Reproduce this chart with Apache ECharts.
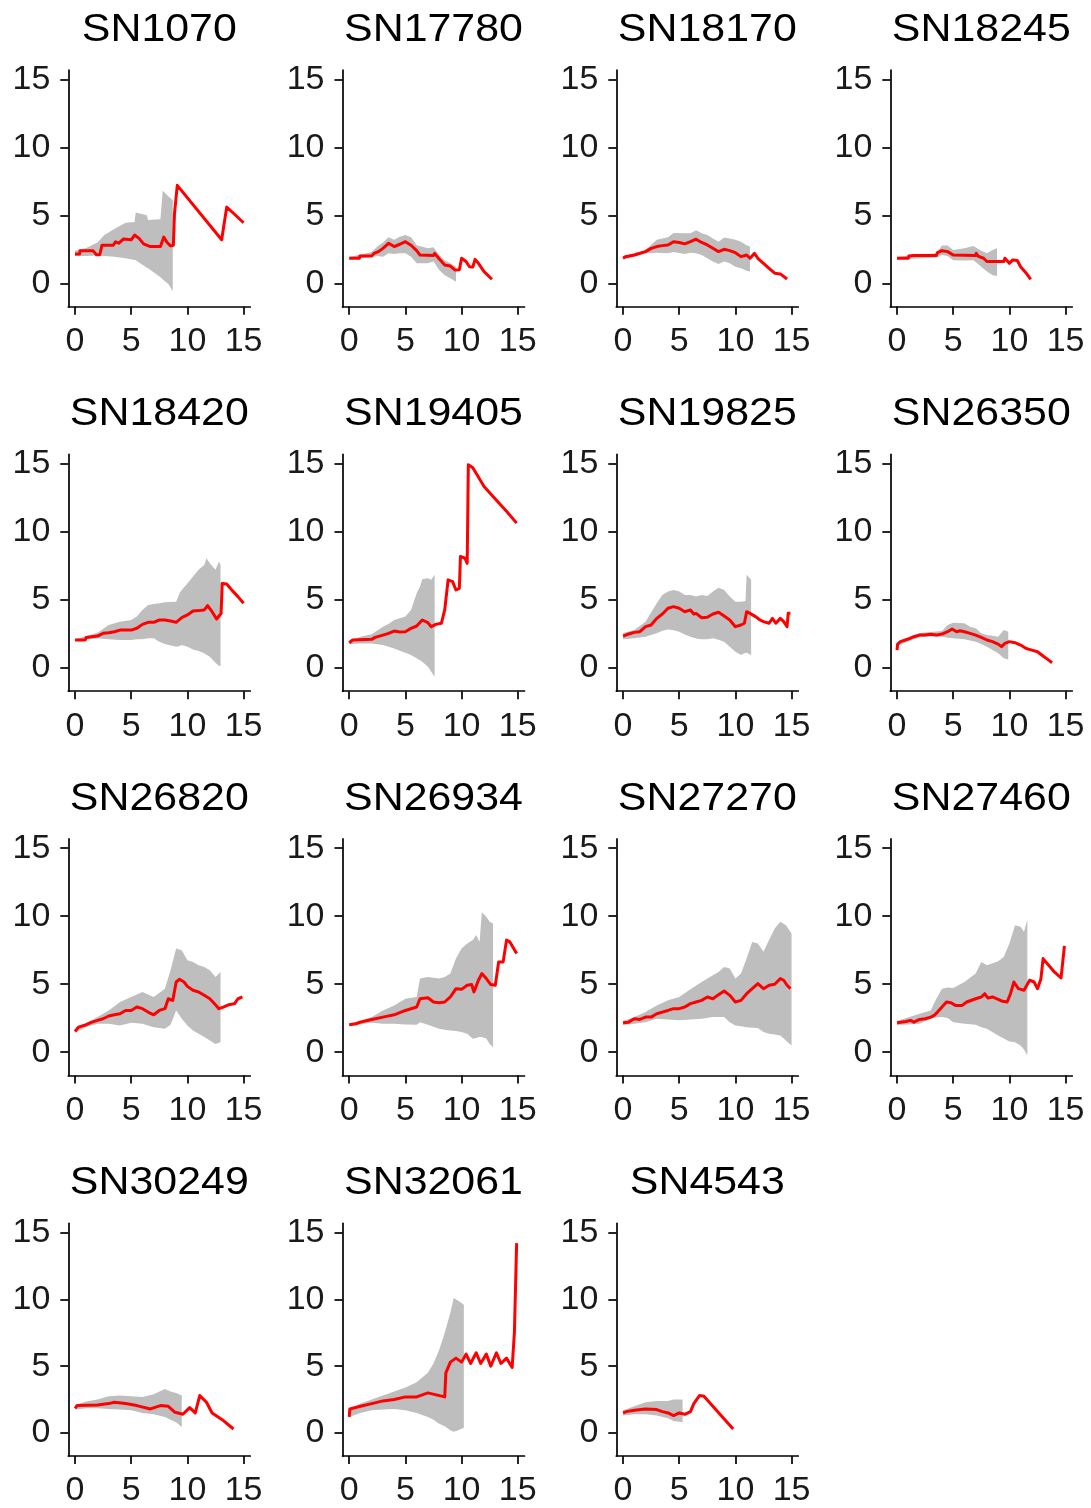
<!DOCTYPE html>
<html>
<head>
<meta charset="utf-8">
<script src="https://cdn.jsdelivr.net/npm/echarts@6/dist/echarts.min.js"></script>
<style>
  html, body { margin: 0; padding: 0; background: #ffffff; }
  #chart { width: 1091px; height: 1508px; }
</style>
</head>
<body>
<div id="chart"></div>
<script>
// Panel names, in reading order
const panelNames = ['SN1070', 'SN17780', 'SN18170', 'SN18245',
                    'SN18420', 'SN19405', 'SN19825', 'SN26350',
                    'SN26820', 'SN26934', 'SN27270', 'SN27460',
                    'SN30249', 'SN32061', 'SN4543'];

const xTicks = [0, 5, 10, 15];
const yTicks = [0, 5, 10, 15];

// Estimate curves: [time, value]
const sn1070Line = [[0,2.16],[0.4,2.16],[0.45,2.4],[1.6,2.4],[1.9,2.1],[2.2,2.1],[2.4,2.8],[3.4,2.8],[3.6,3.05],[3.9,2.95],[4.3,3.25],[5.0,3.2],[5.3,3.55],[5.7,3.3],[6.1,2.9],[6.7,2.7],[7.6,2.7],[7.9,3.4],[8.2,3.0],[8.5,2.75],[8.75,2.8],[8.85,5.1],[9.0,5.2],[9.1,7.2],[9.25,7.2],[13.05,3.2],[13.5,5.6],[14.1,5.15],[15,4.45]];
const sn17780Line = [[0,1.84],[0.9,1.84],[0.95,2.0],[2.0,2.0],[2.2,2.2],[2.6,2.33],[3.0,2.57],[3.5,2.94],[4.0,2.7],[4.5,2.87],[5.0,3.06],[5.5,2.8],[6.0,2.4],[6.3,2.08],[7.5,2.05],[7.6,2.2],[8.0,1.8],[8.5,1.35],[9.0,1.27],[9.4,0.98],[9.8,1.0],[10.0,1.84],[10.4,1.6],[10.7,1.22],[11.0,1.2],[11.2,1.76],[11.5,1.47],[12.0,0.86],[12.7,0.3]];
const sn18170Line = [[0,1.84],[0.2,1.95],[1.0,2.08],[2.0,2.33],[2.5,2.57],[3.0,2.7],[3.5,2.77],[4.0,2.82],[4.5,3.06],[5.0,3.0],[5.5,2.9],[6.0,3.06],[6.5,3.24],[7.0,3.0],[7.5,2.82],[8.0,2.57],[8.5,2.33],[9.0,2.5],[9.5,2.4],[10.0,2.25],[10.5,1.96],[11.0,2.08],[11.3,1.84],[11.7,2.2],[12.0,1.84],[12.5,1.47],[13.0,1.1],[13.5,0.74],[14.0,0.69],[14.6,0.32]];
const sn18245Line = [[0,1.84],[1.0,1.84],[1.05,2.0],[1.5,2.05],[3.5,2.05],[3.6,2.25],[4.0,2.4],[4.5,2.33],[5.0,2.08],[7.0,2.05],[7.05,2.2],[7.2,2.0],[7.7,1.84],[8.0,1.6],[9.5,1.6],[9.6,1.84],[10.0,1.47],[10.3,1.72],[10.7,1.67],[11.0,1.22],[11.5,0.74],[11.9,0.29]];
const sn18420Line = [[0,2.04],[0.9,2.04],[1.0,2.23],[2.0,2.33],[2.5,2.53],[3.0,2.58],[3.5,2.65],[4.0,2.77],[5.0,2.77],[5.5,2.9],[6.0,3.19],[6.5,3.34],[7.0,3.34],[7.5,3.51],[8.0,3.51],[8.5,3.44],[9.0,3.34],[9.5,3.68],[10.0,3.88],[10.5,4.17],[11.0,4.2],[11.5,4.25],[11.8,4.57],[12.2,4.12],[12.6,3.58],[13.0,4.0],[13.1,6.2],[13.5,6.16],[14.0,5.67],[14.5,5.23],[15.0,4.74]];
const sn19405Line = [[0,1.84],[0.3,2.04],[2.0,2.09],[2.3,2.23],[3.0,2.4],[3.5,2.53],[4.0,2.7],[4.5,2.63],[5.0,2.65],[5.5,2.9],[6.0,3.07],[6.5,3.51],[7.0,3.31],[7.3,3.02],[7.7,3.19],[8.2,3.27],[8.5,4.25],[8.8,6.46],[9.2,6.33],[9.5,5.72],[9.8,5.84],[9.9,8.18],[10.3,8.05],[10.5,7.68],[10.6,14.93],[11.0,14.7],[12.0,13.33],[13.0,12.4],[14.0,11.5],[14.9,10.63]];
const sn19825Line = [[0,2.33],[0.5,2.48],[1.0,2.6],[1.5,2.65],[2.0,3.02],[2.5,3.14],[3.0,3.63],[3.5,3.95],[4.0,4.37],[4.5,4.49],[5.0,4.37],[5.5,4.12],[6.0,4.25],[6.3,3.95],[6.5,4.0],[7.0,3.68],[7.5,3.71],[8.0,3.95],[8.5,4.08],[9.0,3.8],[9.5,3.51],[10.0,3.02],[10.5,3.14],[10.8,3.27],[11.0,4.12],[11.3,4.0],[11.8,3.76],[12.2,3.51],[12.5,3.39],[13.0,3.27],[13.3,3.63],[13.6,3.27],[14.0,3.63],[14.3,3.39],[14.6,3.02],[14.7,4.0],[14.9,4.0]];
const sn26350Line = [[0,1.3],[0.05,1.74],[0.3,1.92],[1.0,2.11],[1.5,2.28],[2.0,2.4],[2.5,2.4],[3.0,2.46],[3.5,2.4],[4.0,2.48],[4.5,2.65],[4.9,2.85],[5.3,2.65],[5.6,2.72],[6.0,2.65],[6.5,2.53],[7.0,2.4],[7.5,2.23],[8.0,2.04],[8.5,1.92],[9.0,1.74],[9.3,1.55],[9.6,1.79],[10.0,1.92],[10.5,1.84],[11.0,1.67],[11.5,1.42],[12.0,1.3],[12.5,1.18],[13.0,0.86],[13.5,0.56],[13.8,0.37]];
const sn26820Line = [[0,1.52],[0.3,1.84],[1.0,2.02],[1.5,2.21],[2.0,2.34],[2.5,2.46],[3.0,2.66],[3.5,2.75],[4.0,2.83],[4.5,3.07],[5.0,3.07],[5.5,3.32],[6.0,3.2],[6.5,2.95],[7.0,2.75],[7.5,3.07],[8.0,3.2],[8.3,3.93],[8.7,3.81],[9.0,5.16],[9.3,5.36],[9.7,5.16],[10.0,4.84],[10.5,4.55],[11.0,4.43],[11.5,4.18],[12.0,3.93],[12.5,3.49],[12.8,3.2],[13.2,3.32],[13.7,3.49],[14.2,3.57],[14.5,3.93],[14.9,4.06]];
const sn26934Line = [[0,2.02],[0.6,2.09],[1.0,2.21],[2.0,2.41],[3.0,2.58],[4.0,2.75],[5.0,3.07],[6.0,3.32],[6.3,3.93],[7.0,4.0],[7.5,3.69],[8.0,3.64],[8.5,3.69],[9.0,4.06],[9.5,4.67],[10.0,4.62],[10.5,4.92],[10.9,4.97],[11.1,4.43],[11.5,5.29],[11.8,5.78],[12.2,5.41],[12.6,4.97],[13.0,4.92],[13.3,6.64],[13.7,6.64],[14.0,8.24],[14.3,8.11],[14.9,7.25]];
const sn27270Line = [[0,2.16],[0.5,2.21],[1.0,2.46],[1.5,2.41],[2.0,2.58],[2.5,2.58],[3.0,2.83],[3.5,2.95],[4.0,3.07],[4.5,3.2],[5.0,3.2],[5.5,3.32],[6.0,3.57],[6.5,3.69],[7.0,3.81],[7.5,4.06],[8.0,3.93],[8.5,4.23],[9.0,4.5],[9.5,4.18],[10.0,3.69],[10.5,3.81],[11.0,4.3],[11.5,4.67],[12.0,5.04],[12.5,4.67],[13.0,4.92],[13.5,4.99],[14.0,5.41],[14.3,5.29],[14.6,4.92],[14.9,4.67]];
const sn27460Line = [[0,2.16],[0.8,2.26],[1.2,2.34],[1.5,2.21],[2.0,2.41],[2.5,2.46],[3.0,2.58],[3.3,2.7],[3.6,2.95],[4.0,3.32],[4.4,3.69],[4.8,3.64],[5.2,3.44],[5.8,3.44],[6.2,3.69],[7.0,3.93],[7.5,4.06],[7.8,4.3],[8.1,3.98],[8.5,4.06],[9.0,3.89],[9.4,3.74],[9.8,3.69],[10.1,4.3],[10.4,5.16],[10.8,4.67],[11.3,4.55],[11.8,5.29],[12.2,5.16],[12.5,4.67],[12.8,5.36],[13.0,6.88],[14.0,5.9],[14.6,5.46],[14.9,7.82]];
const sn30249Line = [[0,1.84],[0.2,2.06],[2,2.1],[3,2.2],[3.5,2.3],[4.5,2.2],[5.5,2.05],[6.7,1.8],[7.6,2.05],[8.3,2.0],[8.9,1.55],[9.6,1.4],[10.2,1.9],[10.7,1.5],[11.1,2.8],[11.7,2.3],[12.2,1.5],[13.1,1.0],[14.1,0.3]];
const sn32061Line = [[0,1.2],[0.05,1.8],[1,2.0],[2,2.2],[3,2.4],[4,2.5],[5,2.7],[6,2.7],[7,3.0],[8.5,2.7],[8.6,4.5],[9,5.3],[9.5,5.6],[10,5.3],[10.4,5.9],[10.8,5.2],[11.3,6.0],[11.7,5.2],[12.2,5.9],[12.6,5.0],[13.1,6.0],[13.5,5.2],[14,5.6],[14.5,4.9],[14.7,7.5],[14.9,14.2]];
const sn4543Line = [[0,1.5],[0.3,1.6],[1,1.7],[2,1.8],[3,1.75],[3.5,1.6],[4,1.5],[4.5,1.3],[5,1.5],[5.5,1.4],[6,1.6],[6.3,2.2],[6.8,2.8],[7.2,2.75],[9.8,0.3]];

// Confidence bands: [time, lower, upper]
const sn1070Band = [[0,2.0,2.4],[1,2.0,2.6],[2,2.05,3.0],[2.6,2.0,3.55],[3.5,1.95,4.0],[4.5,1.84,4.45],[5.3,1.72,4.5],[5.4,1.7,5.2],[6.4,1.15,5.0],[6.5,1.1,4.65],[7.6,0.44,4.7],[7.8,0.3,6.8],[8.3,-0.05,6.4],[8.7,-0.56,6.1]];
const sn17780Band = [[0,1.75,1.95],[1,1.85,2.1],[2,1.95,2.3],[2.5,2.0,2.7],[3.0,1.96,3.0],[3.5,2.2,3.38],[4.0,2.15,3.2],[4.5,2.2,3.43],[5.0,2.2,3.55],[5.5,1.96,3.38],[6.0,1.47,2.8],[7.0,1.47,2.57],[7.5,1.6,2.65],[8.0,0.98,2.1],[8.5,0.6,1.7],[9.0,0.37,1.47],[9.5,0.12,1.22]];
const sn18170Band = [[0,1.75,1.95],[1,1.95,2.2],[2,2.2,2.45],[3,2.25,3.2],[4,2.2,3.38],[4.5,2.3,3.7],[5.5,2.15,3.68],[6,2.25,3.68],[6.5,2.2,3.9],[7,2.08,3.68],[7.5,1.84,3.55],[8,1.6,3.3],[8.5,1.42,3.06],[9,1.6,3.36],[9.5,1.47,3.3],[10,1.22,3.2],[10.5,1.1,3.06],[11,0.93,2.8],[11.3,0.86,2.7]];
const sn18245Band = [[0,1.75,1.95],[3.5,1.9,2.2],[4,2.08,2.77],[4.5,2.0,2.77],[5,1.7,2.45],[6,1.67,2.57],[6.8,1.7,2.75],[7.5,1.22,2.4],[8,0.86,2.2],[8.5,0.6,2.45],[8.9,0.54,2.57]];
const sn18420Band = [[0,2.0,2.1],[2,2.16,2.58],[3,2.09,3.14],[4,2.04,3.39],[5,2.04,3.51],[5.5,2.1,3.76],[6,2.1,4.25],[6.5,2.16,4.62],[7,2.16,4.69],[7.5,1.92,4.75],[8,1.74,4.81],[9,1.55,4.86],[9.3,1.6,5.47],[9.5,1.67,5.72],[10,1.55,6.2],[10.5,1.35,6.7],[11,1.23,7.2],[11.5,1.06,7.56],[11.7,0.95,8.05],[12,0.81,7.68],[12.5,0.37,7.2],[12.8,0.15,7.8],[12.95,0.12,7.6]];
const sn19405Band = [[0,1.75,1.95],[1,1.79,2.28],[2,1.79,2.46],[3,1.67,3.02],[3.5,1.55,3.22],[4,1.42,3.51],[4.5,1.25,3.63],[5,1.1,3.76],[5.5,0.93,4.25],[6,0.69,5.47],[6.3,0.55,5.97],[6.5,0.44,6.5],[7,0.07,6.58],[7.3,-0.29,6.46],[7.6,-0.66,6.83]];
const sn19825Band = [[0,2.1,2.55],[1,2.16,2.77],[2,2.28,3.39],[3,2.53,4.74],[3.5,2.72,5.35],[4,2.82,5.6],[4.5,2.75,5.72],[5,2.65,5.6],[5.5,2.45,5.35],[6,2.28,5.35],[6.5,2.15,5.23],[7,2.09,5.35],[7.5,2.1,5.28],[8,2.16,5.6],[8.5,2.05,5.89],[9,1.92,5.72],[9.5,1.55,5.23],[10,1.18,4.86],[10.5,0.93,4.86],[10.9,1.1,4.9],[11.0,1.1,6.83],[11.4,0.93,6.46]];
const sn26350Band = [[0.05,1.6,1.85],[1,1.95,2.25],[2,2.25,2.55],[3,2.3,2.62],[4,2.28,2.7],[4.5,2.2,3.14],[5,2.16,3.31],[6,2.09,3.27],[6.5,2.0,3.02],[7,1.92,2.9],[7.5,1.75,2.53],[8,1.55,2.4],[8.5,1.3,2.35],[9,1.06,2.28],[9.5,0.69,2.77],[9.9,0.61,2.65]];
const sn26820Band = [[0,1.45,1.6],[1,1.85,2.15],[2,2.09,2.58],[3,2.09,3.07],[4,1.97,3.69],[5,2.16,4.06],[6,2.09,4.43],[7,1.84,4.06],[8,1.72,4.67],[8.5,2.02,6.02],[9,3.07,7.62],[9.5,2.46,7.5],[10,1.97,6.76],[10.5,1.6,6.64],[11,1.35,6.39],[11.5,1.11,6.27],[12,0.86,6.02],[12.5,0.61,5.53],[12.95,0.74,5.9]];
const sn26934Band = [[0,1.95,2.1],[2,2.16,2.58],[3,2.09,3.07],[4,2.09,3.44],[5,2.04,3.93],[6,2.02,4.06],[6.3,2.21,5.41],[7,2.02,5.53],[8,1.72,5.41],[8.5,1.65,5.53],[9,1.6,5.78],[9.5,1.55,6.88],[10,1.48,7.62],[10.5,1.35,7.99],[11,0.98,8.24],[11.3,1.05,8.61],[11.6,1.11,8.11],[11.8,1.11,10.28],[12.2,1.0,9.96],[12.5,0.61,9.59],[12.8,0.37,9.47]];
const sn27270Band = [[0,2.0,2.3],[1,2.09,2.58],[2,2.21,2.95],[3,2.46,3.44],[4,2.41,3.81],[5,2.34,4.06],[6,2.41,4.62],[7,2.46,5.16],[8,2.58,5.66],[8.5,2.58,5.9],[9,2.58,6.27],[9.5,2.21,6.15],[10,1.97,5.41],[10.5,1.9,5.78],[11,1.84,6.89],[11.5,1.8,8.11],[12,1.77,7.99],[12.5,1.48,7.38],[13,1.35,8.24],[13.5,1.3,9.1],[14,1.23,9.59],[14.5,0.86,9.34],[15,0.49,8.73]];
const sn27460Band = [[0,2.0,2.3],[2,2.09,2.83],[3,2.46,3.07],[3.5,2.55,3.93],[4,2.58,4.67],[4.5,2.51,4.75],[5,2.21,4.72],[6,2.09,5.16],[7,2.02,5.78],[7.5,1.84,6.64],[8,1.72,6.39],[9,1.23,6.69],[9.5,1.0,7.0],[10,0.79,7.99],[10.5,0.74,9.34],[11,0.49,9.22],[11.3,0.2,8.85],[11.6,-0.25,9.71]];
const sn30249Band = [[0,1.75,2.1],[1,1.85,2.35],[2,1.85,2.5],[3,1.8,2.75],[4,1.75,2.8],[5,1.7,2.75],[6,1.5,2.7],[7,1.4,2.9],[8,1.2,3.3],[8.5,1.0,3.1],[9,0.8,3.0],[9.5,0.45,2.8]];
const sn32061Band = [[0,1.2,1.8],[1,1.5,2.2],[2,1.7,2.5],[3,1.75,2.8],[4,1.8,3.1],[5,1.7,3.4],[6,1.5,3.8],[7,1.2,4.5],[7.5,1.0,5.2],[8,0.7,6.2],[8.5,0.5,7.5],[9,0.2,9.0],[9.3,0.1,10.1],[9.7,0.2,9.9],[10.2,0.4,9.6]];
const sn4543Band = [[0,1.3,1.7],[1,1.4,2.0],[2,1.4,2.3],[3,1.3,2.4],[4,1.1,2.4],[4.5,0.9,2.5],[5.3,0.8,2.5]];

const panelLines = [sn1070Line, sn17780Line, sn18170Line, sn18245Line,
                    sn18420Line, sn19405Line, sn19825Line, sn26350Line,
                    sn26820Line, sn26934Line, sn27270Line, sn27460Line,
                    sn30249Line, sn32061Line, sn4543Line];
const panelBands = [sn1070Band, sn17780Band, sn18170Band, sn18245Band,
                    sn18420Band, sn19405Band, sn19825Band, sn26350Band,
                    sn26820Band, sn26934Band, sn27270Band, sn27460Band,
                    sn30249Band, sn32061Band, sn4543Band];

// Facet layout
const FONT = '"Liberation Sans", Arial, sans-serif';
const TEXT = '#1a1a1a';
const colLeft = [68.3, 342.5, 616.3, 890.3];
const rowTop = [70, 454.45, 838.9, 1223.35];
const panelW = 182;
const panelH = 236.7;
const xRange = [-0.6, 15.6];
const yRange = [-1.72, 15.68];

const grids = [], xAxes = [], yAxes = [], series = [], titles = [];

panelNames.forEach((name, i) => {
  const col = i % 4, row = Math.floor(i / 4);
  const left = colLeft[col], top = rowTop[row];
  grids.push({ left: left, top: top, width: panelW, height: panelH, containLabel: false });

  xAxes.push({
    gridIndex: i, type: 'value', min: xRange[0], max: xRange[1],
    axisLine: { show: true, onZero: false, lineStyle: { color: '#000', width: 1.7 } },
    axisTick: { show: true, length: 8, customValues: xTicks, lineStyle: { color: '#000', width: 1.7 } },
    axisLabel: { customValues: xTicks, fontSize: 34, fontFamily: FONT, color: TEXT, margin: 18 },
    splitLine: { show: false }
  });
  yAxes.push({
    gridIndex: i, type: 'value', min: yRange[0], max: yRange[1],
    axisLine: { show: true, onZero: false, lineStyle: { color: '#000', width: 1.7 } },
    axisTick: { show: true, length: 8, customValues: yTicks, lineStyle: { color: '#000', width: 1.7 } },
    axisLabel: { customValues: yTicks, fontSize: 34, fontFamily: FONT, color: TEXT, margin: 18, padding: [9, 0, 0, 0] },
    splitLine: { show: false }
  });

  const band = panelBands[i];
  series.push({
    type: 'custom', xAxisIndex: i, yAxisIndex: i, z: 1, silent: true,
    data: band,
    encode: { x: 0, y: [1, 2] },
    renderItem: function (params, api) {
      if (params.dataIndex !== 0) return { type: 'group', children: [] };
      const upper = band.map(d => api.coord([d[0], d[2]]));
      const lower = band.slice().reverse().map(d => api.coord([d[0], d[1]]));
      return { type: 'polygon', shape: { points: upper.concat(lower) }, style: { fill: '#bebebe', stroke: null } };
    }
  });
  series.push({
    type: 'line', xAxisIndex: i, yAxisIndex: i, z: 3, silent: true,
    data: panelLines[i], showSymbol: false, symbol: 'none',
    lineStyle: { color: '#ff0000', width: 3, join: 'round' }
  });

  titles.push({
    type: 'text', x: left + panelW / 2, y: top - 40, scaleX: 1.1, silent: true,
    style: { text: name, fontSize: 39, fontFamily: FONT, fill: '#000', align: 'center', verticalAlign: 'middle' }
  });
});

const chart = echarts.init(document.getElementById('chart'), null, { renderer: 'canvas' });
chart.setOption({
  animation: false,
  backgroundColor: '#ffffff',
  grid: grids,
  xAxis: xAxes,
  yAxis: yAxes,
  series: series,
  graphic: titles
});
</script>
</body>
</html>
